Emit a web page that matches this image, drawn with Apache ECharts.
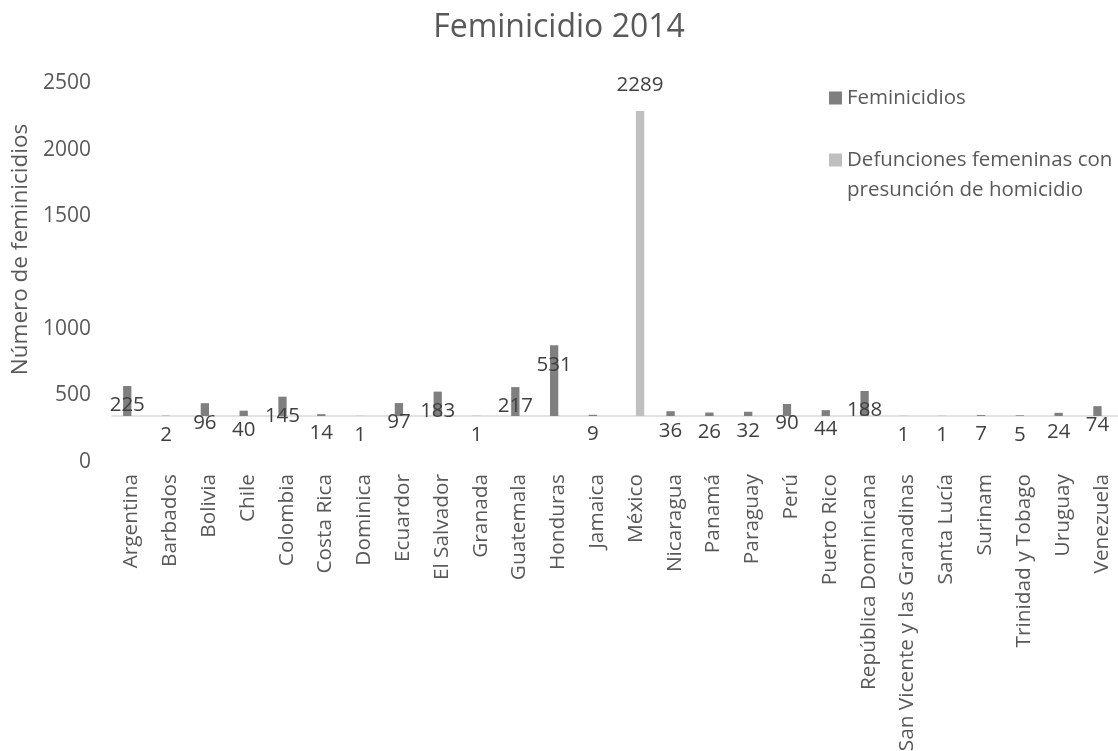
<!DOCTYPE html>
<html>
<head>
<meta charset="utf-8">
<script src="https://cdn.jsdelivr.net/npm/echarts@6/dist/echarts.min.js"></script>
<style>
html,body{margin:0;padding:0;background:#fff;}
#chart{width:1118px;height:751px;}
</style>
</head>
<body>
<div id="chart"></div>
<script>
const titleText = 'Feminicidio 2014';
const yAxisName = 'Número de feminicidios';
const categories = ['Argentina','Barbados','Bolivia','Chile','Colombia','Costa Rica','Dominica','Ecuardor','El Salvador','Granada','Guatemala','Honduras','Jamaica','México','Nicaragua','Panamá','Paraguay','Perú','Puerto Rico','República Dominicana','San Vicente y las Granadinas','Santa Lucía','Surinam','Trinidad y Tobago','Uruguay','Venezuela'];
const seriesNames = ['Feminicidios','Defunciones femeninas con presunción de homicidio'];
const feminicidios = [225,2,96,40,145,14,1,97,183,1,217,531,9,null,36,26,32,90,44,188,1,1,7,5,24,74];
const defunciones = [null,null,null,null,null,null,null,null,null,null,null,null,null,2289,null,null,null,null,null,null,null,null,null,null,null,null];
const yTicks = [0,500,1000,1500,2000,2500];
const upperTicks = [1500,2000,2500];
const lowerTicks = [0,500,1000];

const FONT = '"Open Sans", "Noto Sans", sans-serif';
const yMin = yTicks[0], yMax = yTicks[yTicks.length-1], yStep = yTicks[1]-yTicks[0];
const tickLabelStyle = {margin:21, fontFamily:FONT, fontSize:21, color:'#595959', showMinLabel:true, showMaxLabel:true};

const chart = echarts.init(document.getElementById('chart'), null, {renderer:'canvas'});
chart.setOption({
  animation:false,
  backgroundColor:'#ffffff',
  textStyle:{fontFamily:FONT},
  title:{
    text:titleText, left:'center', top:7,
    textStyle:{fontFamily:FONT, fontSize:32, fontWeight:'normal', color:'#595959'}
  },
  legend:{
    orient:'vertical', left:824, top:78, itemWidth:13, itemHeight:13, itemGap:2,
    icon:'rect',
    data:seriesNames,
    formatter:function(n){
      if(n === seriesNames[1]) return ' \nDefunciones femeninas con\npresunción de homicidio';
      return n;
    },
    textStyle:{fontFamily:FONT, fontSize:20.5, color:'#595959', lineHeight:30}
  },
  grid:[
    {left:112, top:83, width:1009, height:333, containLabel:false, outerBoundsMode:'none'},
    {left:112, top:129, width:1009, height:333, containLabel:false, outerBoundsMode:'none'}
  ],
  xAxis:[
    {
      type:'category', data:categories, boundaryGap:true, gridIndex:0,
      axisTick:{show:false},
      axisLine:{show:true, lineStyle:{color:'#d9d9d9', width:1.5}},
      axisLabel:{interval:0, rotate:90, margin:58, padding:[7,0,0,0], fontFamily:FONT, fontSize:20.8, color:'#595959'}
    },
    {type:'category', data:categories, gridIndex:1, show:false}
  ],
  yAxis:[
    {
      type:'value', gridIndex:0, min:yMin, max:yMax, interval:yStep,
      name:yAxisName, nameLocation:'middle', nameRotate:90, nameGap:74,
      nameTextStyle:{fontFamily:FONT, fontSize:22.5, color:'#595959'},
      axisLine:{show:false}, axisTick:{show:false}, splitLine:{show:false},
      axisLabel:Object.assign({}, tickLabelStyle, {
        formatter:function(v){ return upperTicks.indexOf(v) >= 0 ? String(v) : ''; }
      })
    },
    {
      type:'value', gridIndex:1, min:yMin, max:yMax, interval:yStep,
      axisLine:{show:false}, axisTick:{show:false}, splitLine:{show:false},
      axisLabel:Object.assign({}, tickLabelStyle, {
        formatter:function(v){ return lowerTicks.indexOf(v) >= 0 ? String(v) : ''; }
      })
    }
  ],
  series:[
    {
      name:seriesNames[0], type:'bar', data:feminicidios, barWidth:8.3, barGap:'0%',
      xAxisIndex:0, yAxisIndex:0,
      itemStyle:{color:'#7f7f7f'},
      label:{show:true, position:'insideTop', distance:9, fontFamily:FONT, fontSize:20.5, color:'#404040'}
    },
    {
      name:seriesNames[1], type:'bar', data:defunciones, barWidth:8.3, barGap:'0%',
      xAxisIndex:0, yAxisIndex:0,
      itemStyle:{color:'#bfbfbf'},
      label:{show:true, position:'top', distance:15, fontFamily:FONT, fontSize:20.5, color:'#404040'}
    }
  ]
});
</script>
</body>
</html>
